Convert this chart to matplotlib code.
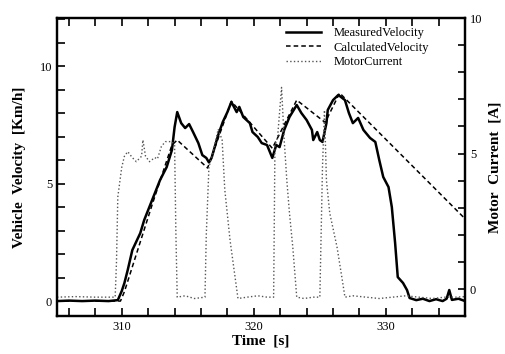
import matplotlib
matplotlib.use("Agg")
import matplotlib.pyplot as plt
from matplotlib.ticker import MultipleLocator

plt.rcParams['font.family'] = ['Liberation Serif', 'DejaVu Serif']

# Measured vehicle velocity [Km/h]
meas_t = [305.1, 306.0, 307.0, 308.0, 309.0, 309.7, 310.0, 310.2, 310.45, 310.8,
          311.4, 311.7, 312.3, 312.9, 313.4, 313.8, 314.0, 314.2, 314.5, 314.8,
          315.1, 315.4, 315.8, 316.1, 316.4, 316.6, 316.8, 317.3, 317.65, 318.0,
          318.3, 318.7, 318.9, 319.2, 319.7, 319.9, 320.3, 320.6, 321.0, 321.4,
          321.7, 321.95, 322.3, 322.7, 323.25, 323.6, 324.0, 324.4, 324.5, 324.8,
          325.0, 325.2, 325.5, 325.6, 326.0, 326.4, 326.9, 327.2, 327.5, 327.9,
          328.3, 328.8, 329.2, 329.5, 329.8, 330.2, 330.45, 330.7, 330.9, 331.3,
          331.6, 331.8, 332.3, 332.8, 333.3, 333.8, 334.3, 334.6, 334.8, 335.0,
          335.5, 336.0]
meas_v = [0.0, 0.02, 0.0, 0.02, 0.0, 0.04, 0.43, 0.77, 1.32, 2.17,
          2.89, 3.45, 4.30, 5.15, 5.70, 6.43, 7.40, 8.04, 7.57, 7.36,
          7.53, 7.19, 6.72, 6.21, 6.09, 5.90, 6.09, 7.06, 7.62, 8.04,
          8.47, 8.04, 8.26, 7.83, 7.57, 7.19, 6.98, 6.72, 6.64, 6.09,
          6.64, 6.55, 7.28, 7.83, 8.34, 8.00, 7.70, 7.28, 6.85, 7.19,
          6.85, 6.77, 7.57, 8.13, 8.55, 8.77, 8.55, 8.00, 7.57, 7.79,
          7.28, 6.94, 6.77, 6.00, 5.28, 4.85, 4.00, 2.47, 1.02, 0.77,
          0.47, 0.13, 0.04, 0.10, 0.00, 0.08, 0.00, 0.10, 0.47, 0.05,
          0.10, 0.00]

# Calculated vehicle velocity [Km/h]
calc_t = [305.1, 309.9, 310.2, 312.3, 313.8, 314.2, 316.5, 318.3, 321.4, 323.25, 325.4, 326.5, 336.0]
calc_v = [0.0, 0.0, 0.4, 4.1, 6.64, 6.85, 5.66, 8.5, 6.5, 8.55, 7.6, 8.85, 3.5]

# Motor current [A]
cur_t = [305.1, 306.5, 308.0, 309.5, 309.6, 309.7, 310.0, 310.2, 310.45, 310.8,
         311.1, 311.5, 311.6, 311.8, 312.1, 312.5, 312.7, 313.0, 313.3, 313.8,
         314.0, 314.1, 314.2, 314.8, 315.5, 316.3, 316.4, 316.6, 316.9, 317.3,
         317.6, 317.8, 318.2, 318.8, 319.5, 320.3, 321.0, 321.5, 321.6, 321.8,
         322.1, 322.3, 322.5, 322.7, 322.95, 323.25, 323.8, 324.5, 325.0, 325.2,
         325.35, 325.5, 325.75, 326.3, 326.7, 326.9, 327.5, 328.5, 329.5, 330.5,
         331.5, 332.5, 333.5, 334.5, 335.3, 336.0]
cur_a = [-0.3, -0.28, -0.3, -0.3, 1.0, 3.4, 4.5, 4.9, 5.07, 4.85,
         4.7, 4.9, 5.5, 4.9, 4.7, 4.85, 4.8, 5.26, 5.44, 5.44,
         5.3, 2.0, -0.3, -0.25, -0.35, -0.3, 2.0, 4.5, 5.0, 5.9,
         5.5, 3.67, 1.8, -0.35, -0.3, -0.25, -0.3, -0.3, 5.3, 5.6,
         7.44, 5.5, 4.0, 2.8, 1.55, -0.3, -0.35, -0.3, -0.3, 4.5,
         6.6, 4.0, 2.8, 1.55, 0.33, -0.3, -0.25, -0.3, -0.35, -0.3,
         -0.25, -0.3, -0.35, -0.3, -0.3, -0.28]

fig = plt.figure(figsize=(5.05, 3.54), dpi=100)
ax = fig.add_axes([0.113, 0.107, 0.808, 0.842])
ax2 = ax.twinx()

l1, = ax.plot(meas_t, meas_v, color='black', lw=1.8, label='MeasuredVelocity')
l2, = ax.plot(calc_t, calc_v, color='black', lw=1.1, ls=(0, (3, 2)), label='CalculatedVelocity')
l3, = ax2.plot(cur_t, cur_a, color='#555555', lw=1.0, ls=':', label='MotorCurrent')

ax.set_xlim(305.1, 336.0)
ax.set_ylim(-0.64, 12.04)
ax2.set_ylim(-1.0, 10.0)

ax.xaxis.set_major_locator(MultipleLocator(10))
ax.xaxis.set_minor_locator(MultipleLocator(2))
ax.yaxis.set_major_locator(MultipleLocator(5))
ax.yaxis.set_minor_locator(MultipleLocator(1))
ax2.yaxis.set_major_locator(MultipleLocator(5))
ax2.yaxis.set_minor_locator(MultipleLocator(1))

ax.tick_params(which='both', direction='in', top=True, width=1.2, labelsize=9, length=6)
ax2.tick_params(which='both', direction='in', width=1.2, labelsize=9, length=5)

for a in (ax, ax2):
    for s in a.spines.values():
        s.set_linewidth(1.6)

ax.set_xlabel('Time  [s]', fontsize=11, fontweight='bold', labelpad=1)
ax.set_ylabel('Vehicle  Velocity  [Km/h]', fontsize=11, fontweight='bold', labelpad=10)
ax2.set_ylabel('Motor  Current  [A]', fontsize=11, fontweight='bold', labelpad=4)

ax2.legend(handles=[l1, l2, l3], loc='upper left', bbox_to_anchor=(0.545, 0.99),
           frameon=False, fontsize=9, handlelength=2.8, handletextpad=1.0,
           labelspacing=0.2, borderpad=0.0)

fig.savefig('out.png', dpi=100)
